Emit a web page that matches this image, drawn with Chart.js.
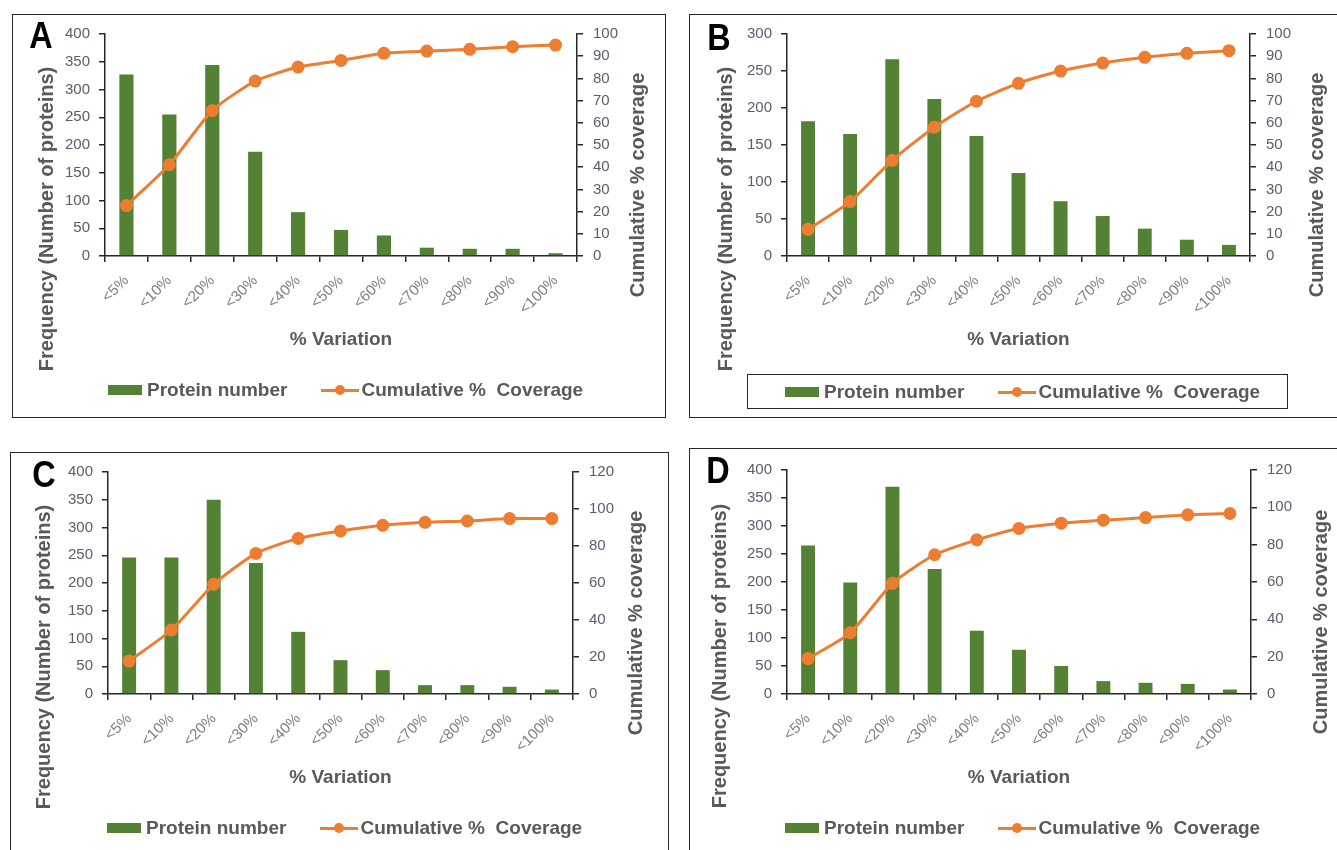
<!DOCTYPE html>
<html>
<head>
<meta charset="utf-8">
<script src="https://cdn.jsdelivr.net/npm/chart.js@4.4.1/dist/chart.umd.min.js"></script>
<style>
    html, body { margin: 0; padding: 0; background: #fff; overflow: hidden; }
    body { width: 1337px; height: 850px; position: relative; font-family: 'Liberation Sans', Arial, sans-serif; }
    .frame { position: absolute; border: 1.5px solid #262626; box-sizing: border-box; }
    canvas { position: absolute; }
    .letter { position: absolute; font-weight: bold; font-size: 36px; line-height: 1; color: #000; transform: translate(-50%, -50%) scaleX(0.9); }
    .legend { position: absolute; display: flex; align-items: center; font-weight: bold; font-size: 19px; color: #595959; white-space: pre; transform: translateY(-50%); }
    .sw-bar { display: inline-block; width: 34px; height: 10px; background: #548235; margin-right: 5px; }
    .sw-line { display: inline-block; position: relative; width: 38px; height: 3px; background: #ED7D31; margin-left: 34px; margin-right: 2px; }
    .sw-line i { position: absolute; left: 14px; top: -3.5px; width: 10px; height: 10px; border-radius: 50%; background: #ED7D31; }
</style>
</head>
<body>
<script>
    // categories shared by all four panels
    const categories = ['<5%', '<10%', '<20%', '<30%', '<40%', '<50%', '<60%', '<70%', '<80%', '<90%', '<100%'];

    // Panel A
    const proteinsA = [327, 255, 344, 188, 79, 47, 37, 15, 13, 13, 5];
    const coverageA = [22.7, 41.1, 65.5, 78.8, 85.1, 88.1, 91.3, 92.3, 93.1, 94.3, 95.0];

    // Panel B
    const proteinsB = [182, 165, 266, 212, 162, 112, 74, 54, 37, 22, 15];
    const coverageB = [12.0, 24.5, 43.1, 58.0, 69.7, 77.8, 83.3, 86.9, 89.5, 91.3, 92.5];

    // Panel C
    const proteinsC = [246, 246, 350, 236, 112, 61, 43, 16, 16, 13, 8];
    const coverageC = [17.8, 34.6, 59.3, 76.0, 84.1, 88.1, 91.2, 92.8, 93.5, 94.8, 94.8];

    // Panel D
    const proteinsD = [265, 199, 370, 223, 113, 79, 50, 23, 20, 18, 8];
    const coverageD = [19.0, 32.8, 59.3, 74.6, 82.6, 88.7, 91.5, 93.1, 94.5, 96.0, 96.7];

    const FONT = "'Liberation Sans', Arial, sans-serif";
    const GREEN = '#548235';
    const ORANGE = '#ED7D31';
    const TITLE = '#595959';
    const TICK_Y = '#5b5b6e';
    const TICK_X = '#7f7f7f';
    const AXIS = '#262626';

    const panels = [
        { letter: 'A', proteins: proteinsA, coverage: coverageA, leftMax: 400, rightMax: 100, rightStep: 10,
          box: {x: 12, y: 14, w: 654, h: 404}, area: {l: 105, r: 577, t: 34, b: 256},
          yTitleDx: -58, rTitleDx: 61, letterAt: [41, 36], legendAt: [108, 390] },
        { letter: 'B', proteins: proteinsB, coverage: coverageB, leftMax: 300, rightMax: 100, rightStep: 10,
          box: {x: 689, y: 14, w: 651, h: 404}, area: {l: 787, r: 1250, t: 34, b: 256},
          yTitleDx: -61, rTitleDx: 67, letterAt: [719, 38], legendAt: [785, 392],
          legendFrame: {x: 747, y: 374, w: 541, h: 35} },
        { letter: 'C', proteins: proteinsC, coverage: coverageC, leftMax: 400, rightMax: 120, rightStep: 20,
          box: {x: 10, y: 452, w: 659, h: 410}, area: {l: 108, r: 573, t: 472, b: 694},
          yTitleDx: -64, rTitleDx: 63, letterAt: [44, 475], legendAt: [107, 828] },
        { letter: 'D', proteins: proteinsD, coverage: coverageD, leftMax: 400, rightMax: 120, rightStep: 20,
          box: {x: 689, y: 448, w: 651, h: 414}, area: {l: 787, r: 1251, t: 470, b: 694},
          yTitleDx: -67, rTitleDx: 70, letterAt: [718, 471], legendAt: [785, 828] }
    ];

    // y-axis titles, both reading bottom to top as in the original figure
    const axisTitles = {
        id: 'axisTitles',
        afterDraw(chart, args, opts){
            const {ctx, chartArea} = chart;
            const cy = (chartArea.top + chartArea.bottom) / 2;
            ctx.save();
            ctx.fillStyle = TITLE;
            ctx.font = 'bold 20px ' + FONT;
            ctx.textAlign = 'center';
            ctx.textBaseline = 'middle';
            [[chartArea.left + opts.leftDx, cy + 74, 'Frequency (Number of proteins)'],
             [chartArea.right + opts.rightDx, cy + 40, 'Cumulative % coverage']].forEach(([x, y, text]) => {
                ctx.save();
                ctx.translate(x, y);
                ctx.rotate(-Math.PI / 2);
                ctx.fillText(text, 0, 0);
                ctx.restore();
            });
            ctx.restore();
        }
    };

    function el(tag, cls, css){
        const e = document.createElement(tag);
        if(cls) e.className = cls;
        if(css) Object.assign(e.style, css);
        document.body.appendChild(e);
        return e;
    }

    function buildPanel(p){
        el('div', 'frame', {left: p.box.x + 'px', top: p.box.y + 'px', width: p.box.w + 'px', height: p.box.h + 'px'});

        const canvas = el('canvas', null, {left: p.box.x + 'px', top: p.box.y + 'px'});
        const xHeight = 95;
        const bottomPad = 40;   // room below the x title for the long y title
        canvas.width = p.box.w;
        canvas.height = p.area.b - p.box.y + xHeight + bottomPad;
        canvas.style.width = canvas.width + 'px';
        canvas.style.height = canvas.height + 'px';

        const leftWidth = p.area.l - p.box.x;
        const rightWidth = p.box.w - (p.area.r - p.box.x);

        new Chart(canvas, {
            type: 'bar',
            data: {
                labels: categories,
                datasets: [
                    {
                        type: 'line', label: 'Cumulative %  Coverage', data: p.coverage, yAxisID: 'y1',
                        borderColor: ORANGE, backgroundColor: ORANGE, borderWidth: 3,
                        pointRadius: 5, pointBackgroundColor: ORANGE, pointBorderColor: ORANGE,
                        tension: 0.2, order: 0
                    },
                    {
                        type: 'bar', label: 'Protein number', data: p.proteins, yAxisID: 'y',
                        backgroundColor: GREEN, barPercentage: 0.33, categoryPercentage: 1, order: 1
                    }
                ]
            },
            options: {
                responsive: false,
                animation: false,
                layout: { padding: { top: p.area.t - p.box.y, left: 0, right: 0, bottom: bottomPad } },
                plugins: {
                    legend: { display: false },
                    tooltip: { enabled: false },
                    axisTitles: { leftDx: p.yTitleDx, rightDx: p.rTitleDx }
                },
                scales: {
                    x: {
                        offset: true,
                        grid: { drawOnChartArea: false, offset: true, tickLength: 6, color: AXIS, lineWidth: 1.5 },
                        border: { color: AXIS, width: 1.5 },
                        ticks: { minRotation: 45, maxRotation: 45, color: TICK_X, padding: 10, font: { family: FONT, size: 15 } },
                        title: { display: true, text: '% Variation', color: TITLE, padding: 0, font: { family: FONT, size: 19, weight: 'bold' } },
                        afterFit(s){ s.height = xHeight; }
                    },
                    y: {
                        position: 'left', min: 0, max: p.leftMax,
                        grid: { drawOnChartArea: false, tickLength: 6, color: AXIS, lineWidth: 1.5 },
                        border: { color: AXIS, width: 1.5 },
                        ticks: { stepSize: 50, color: TICK_Y, padding: 9, font: { family: FONT, size: 15 } },
                        afterFit(s){ s.width = leftWidth; }
                    },
                    y1: {
                        position: 'right', min: 0, max: p.rightMax,
                        grid: { drawOnChartArea: false, tickLength: 6, color: AXIS, lineWidth: 1.5 },
                        border: { color: AXIS, width: 1.5 },
                        ticks: { stepSize: p.rightStep, color: TICK_Y, padding: 10, font: { family: FONT, size: 15 } },
                        afterFit(s){ s.width = rightWidth; }
                    }
                }
            },
            plugins: [axisTitles]
        });

        const letter = el('div', 'letter', {left: p.letterAt[0] + 'px', top: p.letterAt[1] + 'px'});
        letter.textContent = p.letter;

        if(p.legendFrame){
            el('div', 'frame', {left: p.legendFrame.x + 'px', top: p.legendFrame.y + 'px',
                width: p.legendFrame.w + 'px', height: p.legendFrame.h + 'px'});
        }
        const legend = el('div', 'legend', {left: p.legendAt[0] + 'px', top: p.legendAt[1] + 'px'});
        legend.innerHTML = '<span class="sw-bar"></span><span>Protein number</span>' +
            '<span class="sw-line"><i></i></span><span>Cumulative %  Coverage</span>';
    }

    panels.forEach(buildPanel);
</script>
</body>
</html>
